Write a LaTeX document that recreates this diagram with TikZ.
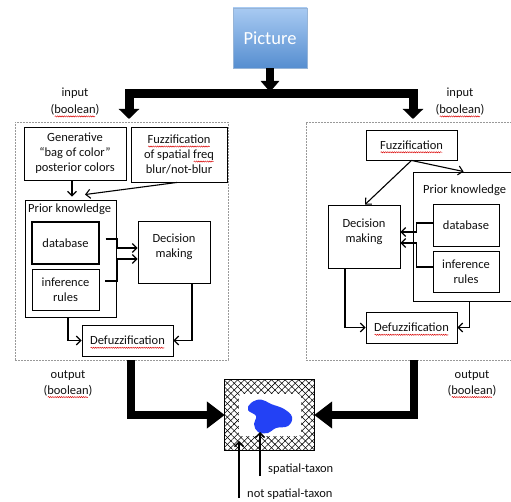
\documentclass[tikz,border=0pt]{standalone}
\usepackage{fontspec}
\setmainfont{Carlito}
\usetikzlibrary{arrows.meta,patterns.meta,decorations.pathmorphing}
\newsavebox\rwbox
\newcommand\rw[1]{\sbox\rwbox{#1}\leavevmode\rlap{\usebox\rwbox}%
  \tikz[baseline=0pt,x=1pt,y=1pt]{\useasboundingbox (0,0) rectangle (\wd\rwbox,0);
  \draw[red!85!black, line width=0.45pt, decorate,
        decoration={snake,amplitude=0.6pt,segment length=2.2pt}]
        (0.5,-3) -- (\wd\rwbox-0.5,-3);}}
\definecolor{pictop}{RGB}{168,202,242}
\definecolor{picbot}{RGB}{86,142,208}
\definecolor{picedge}{RGB}{150,180,215}
\definecolor{blob}{RGB}{35,65,245}
\definecolor{txt}{RGB}{15,15,15}
\begin{document}
\begin{tikzpicture}[x=1pt,y=-1pt,
  font=\fontsize{12.5}{15}\selectfont, text=txt,
  box/.style={draw, line width=0.9pt, align=center, inner sep=0pt},
  dbox/.style={draw=gray!80, dash pattern=on 2pt off 1pt, line width=0.8pt, inner sep=0pt},
  conn/.style={line width=1.1pt, -{Straight Barb[length=4.5pt,width=9pt]}},
  big/.style={line width=9pt, line join=miter, -{Triangle[length=10pt,width=20pt]}},
  bigout/.style={line width=8.5pt, line join=miter, -{Triangle[length=18pt,width=26pt]}},
  lbl/.style={align=center, inner sep=0pt}]
\clip (0,0) rectangle (511,502);
\useasboundingbox (0,0) rectangle (511,502);

% Picture
\node[draw=picedge, line width=0.8pt, top color=pictop, bottom color=picbot,
      minimum width=74pt, minimum height=60pt, text=white,
      font=\fontsize{18.5}{22}\selectfont] (pic) at (270,38) {Picture};
\coordinate (j) at (270,94);
\draw[line width=8pt, -{Triangle[length=11pt,width=18pt]}] (pic.south) -- (270,92);
\coordinate (lin) at (129,119);
\coordinate (rin) at (413,119);
\draw[big] (j) -| (lin);
\draw[big] (j) -| (rin);

% input labels
\node[lbl, font=\fontsize{12.5}{17}\selectfont] (inl) at (75,101.5) {input\\(\rw{boolean})};
\node[lbl, font=\fontsize{12.5}{17}\selectfont] (inr) at (460,101.5) {input\\(\rw{boolean})};

% dashed containers
\node[dbox, minimum width=213pt, minimum height=238pt] (lbox) at (121.5,241) {};
\node[dbox, minimum width=239pt, minimum height=238pt] (rbox) at (425.5,241) {};

% ---------- left side ----------
\node[box, minimum width=102pt, minimum height=53pt] (gen) at (75,153.5)
  {Generative\\``bag of color''\\posterior colors};
\node[box, minimum width=96pt, minimum height=55pt] (fzl) at (179,154.5)
  {\rw{Fuzzification}\\of spatial \rw{freq}\\blur/not-blur};
\node[box, minimum width=91pt, minimum height=117pt] (pkl) at (70.5,258.5) {};
\node[lbl, anchor=west] (pkltxt) at (28,209) {Prior knowledge};
\node[box, line width=1.4pt, minimum width=67pt, minimum height=42pt] (dbl) at (65.5,243) {database};
\node[box, minimum width=67pt, minimum height=41pt] (infl) at (65.5,289.5) {inference\\rules};
\node[box, minimum width=72pt, minimum height=62pt] (decl) at (174,252) {};
\node[lbl] (decltxt) at (174,246.5) {Decision\\making};
\node[box, minimum width=91pt, minimum height=31pt] (dfl) at (127.5,340.5) {\rw{Defuzzification}};

\draw[conn] ([shift={(-3,0)}]gen.south) -- ([shift={(1.5,-3)}]pkl.north);
\draw[conn] ([shift={(-2,0)}]fzl.south) -- ([shift={(14.5,-5)}]pkl.north);
\draw[conn] ([shift={(6,-4)}]dbl.east) -- ++(12,0) |- ([shift={(0,-4)}]decl.west);
\draw[conn] ([shift={(6,-8.5)}]infl.east) -- ++(12,0) |- ([shift={(0,7)}]decl.west);
\draw[conn] ([shift={(-2.5,0)}]pkl.south) |- (dfl.west);
\draw[conn] ([shift={(18,0)}]decl.south) |- (dfl.east);

% ---------- right side ----------
\node[box, minimum width=91pt, minimum height=30pt] (fzr) at (411.5,145) {\rw{Fuzzification}};
\node[box, minimum width=127pt, minimum height=129pt] (pkr) at (476.5,236.5) {};
\node[lbl, anchor=west] (pkrtxt) at (423,190) {Prior knowledge};
\node[box, minimum width=66pt, minimum height=42pt] (dbr) at (466,225) {database};
\node[box, minimum width=66pt, minimum height=41pt] (infr) at (466,271.5) {inference\\rules};
\node[box, minimum width=72pt, minimum height=63pt] (decr) at (364,236.5) {};
\node[lbl] (decrtxt) at (364,231.5) {Decision\\making};
\node[box, minimum width=91pt, minimum height=31pt] (dfr) at (411.5,327.5) {\rw{Defuzzification}};

\draw[conn] (fzr.south) -- ([shift={(1,0)}]decr.north);
\draw[conn] (fzr.south) -- ([shift={(51,0)}]pkr.north west);
\draw[conn] ([shift={(0,-2)}]dbr.west) -- ++(-16,0) |- ([shift={(0,-4.5)}]decr.east);
\draw[conn] ([shift={(0,-4.5)}]infr.west) -- ++(-16,0) |- ([shift={(0,6.5)}]decr.east);
\draw[conn] ([shift={(-19,0)}]decr.south) |- (dfr.west);
\draw[conn] ([shift={(57,0)}]pkr.south west) |- (dfr.east);

% ---------- result ----------
\node[minimum width=89pt, minimum height=70pt, inner sep=0pt] (hatch) at (269.5,415) {};
\fill[pattern={Lines[angle=45,distance=4.8pt,line width=0.55pt]}] (hatch.south west) rectangle (hatch.north east);
\fill[pattern={Lines[angle=-45,distance=4.8pt,line width=0.55pt]}] (hatch.south west) rectangle (hatch.north east);
\fill[white, rounded corners=3pt] (239,394) rectangle (301,436);
\fill[blob] plot[smooth cycle, tension=0.7] coordinates {
  (251,403) (261,399.5) (271,404) (284,409) (292,417) (288,426)
  (276,428) (268,433) (258,432) (254,424) (256,416) (248,410)};
\draw[line width=1.3pt] (hatch.south west) rectangle (hatch.north east);

\coordinate (lout) at (131,360);
\coordinate (rout) at (414,360);
\draw[bigout] (lout) |- (hatch.west);
\draw[bigout] (rout) |- (hatch.east);

\node[lbl, font=\fontsize{12.5}{16}\selectfont] (outl) at (68,383) {output\\(\rw{boolean})};
\node[lbl, font=\fontsize{12.5}{16}\selectfont] (outr) at (472,383) {output\\(\rw{boolean})};

\node[lbl, anchor=west] (stl) at (268,469) {spatial-taxon};
\node[lbl, anchor=west] (nstl) at (247,494) {not spatial-taxon};
\coordinate (s1) at (260,476);
\coordinate (s2) at (239,498);
\draw[line width=1.5pt, -{Straight Barb[length=4.5pt,width=9pt]}] (s1) -- (260,432);
\draw[line width=1.5pt, -{Straight Barb[length=4.5pt,width=9pt]}] (s2) -- (239,441);
\end{tikzpicture}
\end{document}
